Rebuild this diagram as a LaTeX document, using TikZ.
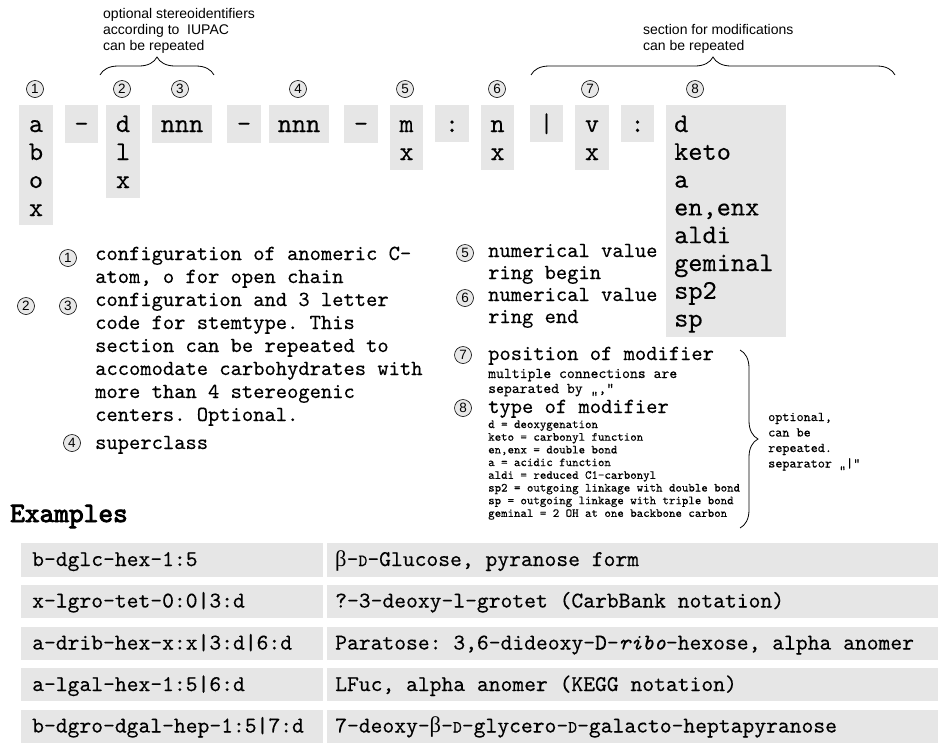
\documentclass[tikz,border=0pt]{standalone}
\usepackage{fontspec}
\setsansfont{Liberation Sans}
\setmonofont{lmmono10-regular.otf}[FakeBold=0.25,ItalicFont=lmmono10-italic.otf]
\newfontfamily\exhfont{lmmono10-regular.otf}[FakeBold=3]
\newfontfamily\grkfont{Liberation Serif}
\usetikzlibrary{decorations.pathreplacing}
\definecolor{boxgray}{RGB}{230,230,230}
\definecolor{circgray}{RGB}{232,232,232}
\newcommand\bigmono{\ttfamily\fontsize{27}{28}\selectfont}
\newcommand\medmono{\ttfamily\fontsize{21.5}{23}\selectfont}
\newcommand\smlmono{\ttfamily\fontsize{15}{15}\selectfont}
\newcommand\tinymono{\ttfamily\fontsize{12.3}{12}\selectfont}
\newcommand\exmono{\ttfamily\fontsize{22.5}{24}\selectfont}
\newcommand\scD{{\fontsize{17}{17}\selectfont D}}
\newcommand\betaG{{\grkfont β}}
\tikzset{
  gbox/.style={fill=boxgray,draw=none},
  big/.style={font=\bigmono,anchor=base,inner sep=0pt},
  bigl/.style={font=\bigmono,anchor=base west,inner sep=0pt},
  num/.style={circle,draw,fill=circgray,minimum size=17pt,inner sep=0pt,line width=0.6pt,font=\sffamily\fontsize{13.5}{13.5}\selectfont},
  med/.style={font=\medmono,anchor=base west,inner sep=0pt},
  sml/.style={font=\smlmono,anchor=base west,inner sep=0pt},
  tiny/.style={font=\tinymono,anchor=base west,inner sep=0pt},
  note/.style={font=\sffamily\fontsize{14}{16}\selectfont,anchor=base west,inner sep=0pt},
  ex/.style={font=\exmono,anchor=base west,inner sep=0pt},
  bracestyle/.style={decorate,decoration={brace,amplitude=18pt},line width=0.8pt}
}
\begin{document}
\begin{tikzpicture}[x=1pt,y=-1pt]
\useasboundingbox (0,0) rectangle (941,745);
\fill[white] (0,0) rectangle (941,745);

% ---- top row boxes ----
\fill[gbox] (19,105) rectangle (53,225);
\fill[gbox] (65,105) rectangle (98,143);
\fill[gbox] (106,105) rectangle (140,198);
\fill[gbox] (152,105) rectangle (212,143);
\fill[gbox] (227,105) rectangle (261,143);
\fill[gbox] (269,105) rectangle (329,143);
\fill[gbox] (344,105) rectangle (378,143);
\fill[gbox] (390,105) rectangle (423,170);
\fill[gbox] (435,105) rectangle (469,142);
\fill[gbox] (481,105) rectangle (514,170);
\fill[gbox] (530,105) rectangle (563,142);
\fill[gbox] (575,105) rectangle (609,170);
\fill[gbox] (621,105) rectangle (654,142);
\fill[gbox] (666,105) rectangle (786,337);

\foreach \t [count=\i] in {a,b,o,x} \node[big] (b1-\i) at (36,132+28*\i-28) {\t};
\node[big] (b2) at (81.5,132) {-};
\foreach \t [count=\i] in {d,l,x} \node[big] (b3-\i) at (123,132+28*\i-28) {\t};
\node[big] (b4) at (182,132) {nnn};
\node[big] (b5) at (244,132) {-};
\node[big] (b6) at (299,132) {nnn};
\node[big] (b7) at (361,132) {-};
\foreach \t [count=\i] in {m,x} \node[big] (b8-\i) at (406.5,132+28*\i-28) {\t};
\node[big] (b9) at (452,132) {:};
\foreach \t [count=\i] in {n,x} \node[big] (b10-\i) at (497.5,132+28*\i-28) {\t};
\node[big] (b11) at (546.5,132) {|};
\foreach \t [count=\i] in {v,x} \node[big] (b12-\i) at (592,132+28*\i-28) {\t};
\node[big] (b13) at (637.5,132) {:};
\foreach \t [count=\i] in {d,keto,a,{en,enx},aldi,geminal,sp2,sp} \node[bigl] (b14-\i) at (674,132+27.8*\i-27.8) {\t};

% ---- top circles ----
\node[num] (t1) at (35,89) {1};
\node[num] (t2) at (122,89) {2};
\node[num] (t3) at (180,89) {3};
\node[num] (t4) at (298,89) {4};
\node[num] (t5) at (405,89) {5};
\node[num] (t6) at (497,89) {6};
\node[num] (t7) at (590,89) {7};
\node[num] (t8) at (695,89) {8};

% ---- top braces and notes ----
\coordinate (br1a) at (100,75);
\coordinate (br1b) at (214,75);
\draw[bracestyle] (br1a) -- (br1b);
\coordinate (br2a) at (531,75);
\coordinate (br2b) at (895,75);
\draw[bracestyle] (br2a) -- (br2b);
\node[note] (n1a) at (103,18) {optional stereoidentifiers};
\node[note] (n1b) at (103,34) {according to\ \ IUPAC};
\node[note] (n1c) at (103,50) {can be repeated};
\node[note] (n2a) at (643,34) {section for modifications};
\node[note] (n2b) at (643,50) {can be repeated};

% ---- left descriptions ----
\node[num] (d1) at (68,258) {1};
\node[num] (d2) at (26,306) {2};
\node[num] (d3) at (68,306) {3};
\node[num] (d4) at (72,443) {4};
\foreach \t [count=\i] in {configuration of anomeric C-,{atom, o for open chain},configuration and 3 letter,code for stemtype. This,section can be repeated to,accomodate carbohydrates with,more than 4 stereogenic,centers. Optional.}
  \node[med] (l-\i) at (95,260+23*\i-23) {\t};
\node[med] (l-9) at (95,449) {superclass};

% ---- right descriptions ----
\node[num] (d5) at (465,253) {5};
\node[num] (d6) at (465,298) {6};
\node[med] (r1) at (488,257) {numerical value};
\node[med] (r2) at (488,279) {ring begin};
\node[med] (r3) at (488,301) {numerical value};
\node[med] (r4) at (488,323) {ring end};

\node[num] (d7) at (463,355) {7};
\node[num] (d8) at (463,408) {8};
\node[med] (p1) at (488,360) {position of modifier};
\node[sml] (p2) at (488,378) {multiple connections are};
\node[sml] (p3) at (488,393) {separated by „,“};
\node[med] (p4) at (488,413) {type of modifier};
\foreach \t [count=\i] in {d = deoxygenation,keto = carbonyl function,{en,enx = double bond},a = acidic function,aldi = reduced C1-carbonyl,sp2 = outgoing linkage with double bond,sp = outgoing linkage with triple bond,geminal = 2 OH at one backbone carbon}
  \node[tiny] (m-\i) at (488,428+12.7*\i-12.7) {\t};

\coordinate (br3a) at (740,350);
\coordinate (br3b) at (740,528);
\draw[bracestyle] (br3a) -- (br3b);
\foreach \t [count=\i] in {{optional,},can be,repeated.,separator „|“}
  \node[tiny,font=\ttfamily\fontsize{13.5}{13}\selectfont] (o-\i) at (768,421+15.5*\i-15.5) {\t};

% ---- examples ----
\node[ex,font=\exhfont\fontsize{28}{28}\selectfont] (exh) at (10,522) {Examples};
\foreach \ya/\yb in {543/577,585/618,627/660,668/701,710/743}{
  \fill[gbox] (21,\ya) rectangle (323,\yb);
  \fill[gbox] (327,\ya) rectangle (938,\yb);
}
\node[ex] (e1l) at (32,566) {b-dglc-hex-1:5};
\node[ex] (e2l) at (32,607.5) {x-lgro-tet-0:0|3:d};
\node[ex] (e3l) at (32,649.5) {a-drib-hex-x:x|3:d|6:d};
\node[ex] (e4l) at (32,691) {a-lgal-hex-1:5|6:d};
\node[ex] (e5l) at (32,732.5) {b-dgro-dgal-hep-1:5|7:d};
\node[ex] (e1r) at (335,566) {\betaG-\scD-Glucose, pyranose form};
\node[ex] (e2r) at (335,607.5) {?-3-deoxy-l-grotet (CarbBank notation)};
\node[ex] (e3r) at (335,649.5) {Paratose: 3,6-dideoxy-D-\textit{ribo}-hexose, alpha anomer};
\node[ex] (e4r) at (335,691) {LFuc, alpha anomer (KEGG notation)};
\node[ex] (e5r) at (335,732.5) {7-deoxy-\betaG-\scD-glycero-\scD-galacto-heptapyranose};
\end{tikzpicture}
\end{document}
